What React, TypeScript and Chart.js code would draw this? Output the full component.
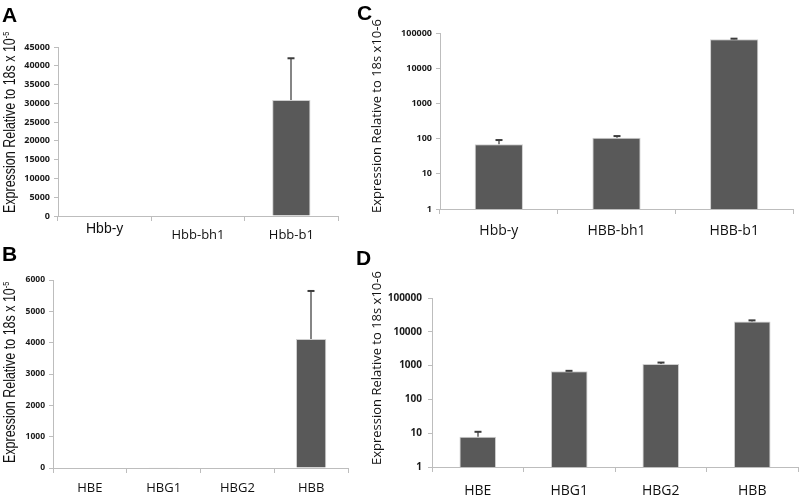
import React, { useEffect, useRef } from "react";
import { Chart, registerables } from "chart.js";

Chart.register(...registerables);

// ---------- data ----------
const catsA = ["Hbb-y", "Hbb-bh1", "Hbb-b1"];
const valsA = [120, 150, 30900];
const errA = [0, 0, 11100];

const catsB = ["HBE", "HBG1", "HBG2", "HBB"];
const valsB = [15, 20, 18, 4120];
const errB = [0, 0, 0, 1530];

const catsC = ["Hbb-y", "HBB-bh1", "HBB-b1"];
const valsC = [69, 106, 66000];
const errC = [22, 12, 3000];

const catsD = ["HBE", "HBG1", "HBG2", "HBB"];
const valsD = [7.8, 680, 1120, 20300];
const errD = [3.2, 20, 110, 1500];

const logTicks = [1, 10, 100, 1000, 10000, 100000];
const linTicksA = { min: 0, max: 45000, step: 5000 };
const linTicksB = { min: 0, max: 6000, step: 1000 };

const titleLinear = "Expression Relative to 18s x 10";
const titleLinearExp = "-5";
const titleLog = "Expression Relative to 18s x10-6";

// ---------- styling ----------
const AXIS = "#bdbdbd";
const BAR = "#595959";
const BAR_EDGE = "#cfcfcf";

function errorBars(errs: number[]) {
  return {
    id: "errorBars",
    afterDatasetsDraw(chart: any) {
      const meta = chart.getDatasetMeta(0);
      const data = chart.data.datasets[0].data as number[];
      const ys = chart.scales.y;
      const ctx = chart.ctx as CanvasRenderingContext2D;
      ctx.save();
      meta.data.forEach((el: any, i: number) => {
        const e = errs[i];
        if (!e) return;
        const x = Math.round(el.x);
        const y0 = ys.getPixelForValue(data[i]);
        const y1 = ys.getPixelForValue(data[i] + e);
        ctx.strokeStyle = "#858585";
        ctx.lineWidth = 2;
        ctx.beginPath();
        ctx.moveTo(x, y0);
        ctx.lineTo(x, y1);
        ctx.stroke();
        ctx.strokeStyle = "#3c3c3c";
        ctx.lineWidth = 2;
        ctx.beginPath();
        ctx.moveTo(x - 3.5, y1);
        ctx.lineTo(x + 3.5, y1);
        ctx.stroke();
      });
      ctx.restore();
    },
  };
}

type Spec = {
  left: number;
  top: number;
  width: number;
  height: number;
  cats: string[];
  vals: number[];
  errs: number[];
  log: boolean;
  lin?: { min: number; max: number; step: number };
  yTickSize: number;
  yTickPad: number;
  yWidth: number;
  xHeight: number;
  padTop: number;
  padRight: number;
  xFont: (i: number) => any;
  xPad: number;
  barPct: number;
};

const OPEN = "'Open Sans', 'Noto Sans', sans-serif";
const ARIAL = "'Liberation Sans', Arial, sans-serif";

const specs: Spec[] = [
  {
    left: 0, top: 0, width: 345, height: 245,
    cats: catsA, vals: valsA, errs: errA, log: false, lin: linTicksA,
    yTickSize: 9, yTickPad: 4, yWidth: 58, xHeight: 29, padTop: 47, padRight: 7,
    xFont: (i: number) =>
      i === 0
        ? { family: ARIAL, size: 14, lineHeight: 1.1 }
        : { family: OPEN, size: 13, lineHeight: 2.23 },
    xPad: 0, barPct: 0.41,
  },
  {
    left: 0, top: 248, width: 355, height: 247,
    cats: catsB, vals: valsB, errs: errB, log: false, lin: linTicksB,
    yTickSize: 8.5, yTickPad: 4, yWidth: 53, xHeight: 27, padTop: 32, padRight: 7,
    xFont: () => ({ family: OPEN, size: 13, lineHeight: 1.2 }),
    xPad: 7, barPct: 0.41,
  },
  {
    left: 380, top: 0, width: 420, height: 245,
    cats: catsC, vals: valsC, errs: errC, log: true,
    yTickSize: 9, yTickPad: 4, yWidth: 60, xHeight: 36, padTop: 33, padRight: 7,
    xFont: () => ({ family: OPEN, size: 14, lineHeight: 1.2 }),
    xPad: 9, barPct: 0.41,
  },
  {
    left: 380, top: 248, width: 420, height: 247,
    cats: catsD, vals: valsD, errs: errD, log: true,
    yTickSize: 10, yTickPad: 6, yWidth: 52, xHeight: 28, padTop: 50, padRight: 2,
    xFont: () => ({ family: OPEN, size: 14, lineHeight: 1.2 }),
    xPad: 10.5, barPct: 0.40,
  },
];

function buildConfig(s: Spec): any {
  const yScale: any = s.log
    ? {
        type: "logarithmic",
        min: logTicks[0],
        max: logTicks[logTicks.length - 1],
        afterBuildTicks: (sc: any) => {
          sc.ticks = logTicks.map((v) => ({ value: v }));
        },
      }
    : {
        type: "linear",
        min: s.lin!.min,
        max: s.lin!.max,
      };
  yScale.ticks = {
    font: { family: OPEN, size: s.yTickSize, weight: "bold" },
    color: "#1a1a1a",
    padding: s.yTickPad,
    callback: (v: any) => String(v),
    ...(s.log ? {} : { stepSize: s.lin!.step }),
  };
  yScale.grid = { drawOnChartArea: false, tickLength: 4, color: AXIS, lineWidth: 1 };
  yScale.border = { color: AXIS, width: 1 };
  yScale.afterFit = (sc: any) => {
    sc.width = s.yWidth;
  };

  return {
    type: "bar",
    data: {
      labels: s.cats,
      datasets: [
        {
          data: s.vals,
          backgroundColor: BAR,
          borderColor: BAR_EDGE,
          borderWidth: 1,
          categoryPercentage: 1,
          barPercentage: s.barPct,
        },
      ],
    },
    options: {
      responsive: false,
      animation: false,
      events: [],
      layout: { padding: { top: s.padTop, right: s.padRight, left: 0, bottom: 0 } },
      plugins: { legend: { display: false }, title: { display: false }, tooltip: { enabled: false } },
      scales: {
        x: {
          type: "category",
          grid: { offset: true, drawOnChartArea: false, tickLength: 5, color: AXIS, lineWidth: 1 },
          border: { color: AXIS, width: 1 },
          ticks: {
            autoSkip: false,
            maxRotation: 0,
            color: "#111",
            padding: s.xPad,
            font: (ctx: any) => s.xFont(ctx.index),
          },
          afterFit: (sc: any) => {
            sc.height = s.xHeight;
          },
        },
        y: yScale,
      },
    },
    plugins: [errorBars(s.errs)],
  };
}

function Panel({ spec }: { spec: Spec }) {
  const ref = useRef<HTMLCanvasElement | null>(null);
  useEffect(() => {
    if (!ref.current) return;
    const chart = new Chart(ref.current, buildConfig(spec));
    return () => chart.destroy();
  }, [spec]);
  return (
    <canvas
      ref={ref}
      width={spec.width}
      height={spec.height}
      style={{ position: "absolute", left: spec.left, top: spec.top, width: spec.width, height: spec.height }}
    />
  );
}

const letterStyle: React.CSSProperties = {
  position: "absolute",
  fontFamily: ARIAL,
  fontWeight: "bold",
  fontSize: 21,
  lineHeight: "21px",
  color: "#000",
};

function LinTitle({ x, y }: { x: number; y: number }) {
  return (
    <div
      style={{
        position: "absolute",
        left: x,
        top: y,
        transformOrigin: "0 0",
        transform: "rotate(-90deg) scaleX(0.78)",
        fontFamily: ARIAL,
        fontSize: 16,
        lineHeight: "16px",
        whiteSpace: "nowrap",
        color: "#111",
      }}
    >
      {titleLinear}
      <sup style={{ fontSize: "0.6em", lineHeight: 0, verticalAlign: "0.6em" }}>{titleLinearExp}</sup>
    </div>
  );
}

function LogTitle({ x, y }: { x: number; y: number }) {
  return (
    <div
      style={{
        position: "absolute",
        left: x,
        top: y,
        transformOrigin: "0 0",
        transform: "rotate(-90deg)",
        fontFamily: OPEN,
        fontSize: 13,
        lineHeight: "13px",
        whiteSpace: "nowrap",
        color: "#111",
      }}
    >
      {titleLog}
    </div>
  );
}

export default function App() {
  return (
    <div
      style={{
        position: "fixed",
        left: 0,
        top: 0,
        width: 800,
        height: 495,
        background: "#fff",
        overflow: "hidden",
      }}
    >
      {specs.map((s, i) => (
        <Panel key={i} spec={s} />
      ))}
      <LinTitle x={1.5} y={213} />
      <LinTitle x={1.5} y={463} />
      <LogTitle x={370} y={213} />
      <LogTitle x={370} y={465} />
      <div style={{ ...letterStyle, left: 2, top: 4 }}>A</div>
      <div style={{ ...letterStyle, left: 2, top: 243 }}>B</div>
      <div style={{ ...letterStyle, left: 357, top: 2 }}>C</div>
      <div style={{ ...letterStyle, left: 356, top: 247 }}>D</div>
    </div>
  );
}
